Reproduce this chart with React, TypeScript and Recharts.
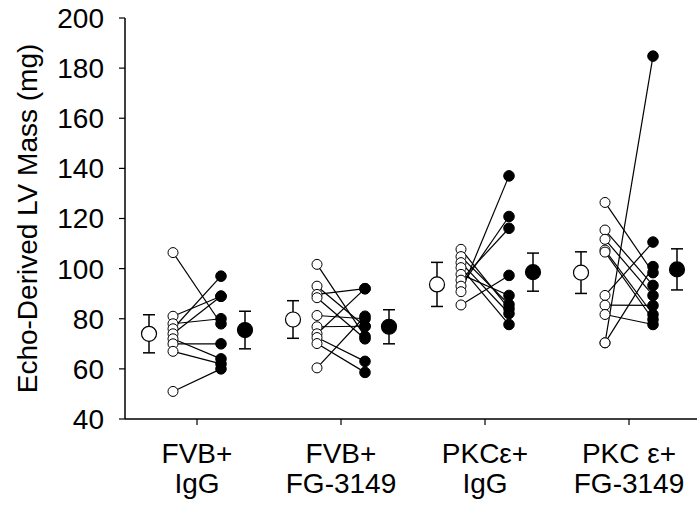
import { ComposedChart, Scatter, XAxis, YAxis, ErrorBar, Label } from 'recharts';

// category labels (two lines each)
const labelTop = ['FVB+', 'FVB+', 'PKCε+', 'PKC ε+'];
const labelBottom = ['IgG', 'FG-3149', 'IgG', 'FG-3149'];

// individual animals, before (open) and after (filled)
const fvbIgGBefore = [106.4, 81, 78, 76, 74, 72, 70, 67, 51];
const fvbIgGAfter = [78, 89, 80, 97, 89, 64, 70, 62, 60];
const fvbFgBefore = [101.7, 93, 89.7, 88.4, 81.3, 76.8, 74, 72.5, 70.1, 60.4];
const fvbFgAfter = [73, 77, 92, 72, 80, 77, 92, 63, 58.6, 81];
const pkcIgGBefore = [107.7, 104.8, 102.4, 100.4, 97.7, 95.4, 93, 90.8, 85.5];
const pkcIgGAfter = [84, 85.7, 82.1, 77.7, 89.3, 116.1, 120.8, 137, 97.3];
const pkcFgBefore = [126.4, 115.4, 111.7, 107.4, 106.6, 89.3, 85.4, 81.7, 70.4, 70.4];
const pkcFgAfter = [98.4, 93.3, 89.3, 81.7, 79.7, 110.6, 85.3, 77.7, 184.8, 100.8];

// group means +/- SEM
const beforeMean = [74, 79.7, 93.7, 98.4];
const beforeSem = [7.6, 7.5, 8.8, 8.3];
const afterMean = [75.5, 76.8, 98.6, 99.7];
const afterSem = [7.5, 6.8, 7.6, 8.2];

const yTicks = [40, 60, 80, 100, 120, 140, 160, 180, 200];

const before = [fvbIgGBefore, fvbFgBefore, pkcIgGBefore, pkcFgBefore];
const after = [fvbIgGAfter, fvbFgAfter, pkcIgGAfter, pkcFgAfter];

const FONT = '"Liberation Sans", Arial, sans-serif';

const pairs = before.flatMap((vals, g) =>
	vals.map((v, i) => [
		{ x: g + 1 - 1 / 6, y: v },
		{ x: g + 1 + 1 / 6, y: after[g][i] },
	])
);
const openDots = before.flatMap((vals, g) => vals.map((v) => ({ x: g + 1 - 1 / 6, y: v })));
const filledDots = after.flatMap((vals, g) => vals.map((v) => ({ x: g + 1 + 1 / 6, y: v })));
const openMeans = beforeMean.map((m, g) => ({ x: g + 1 - 1 / 3, y: m, err: beforeSem[g] }));
const filledMeans = afterMean.map((m, g) => ({ x: g + 1 + 1 / 3, y: m, err: afterSem[g] }));

const circle = (r: number, fill: string, sw: number) => (p: any) =>
	<circle cx={p.cx} cy={p.cy} r={r} fill={fill} stroke="#000" strokeWidth={sw} />;

function CategoryTick(props: any) {
	const { x, y, payload } = props;
	const i = Math.round(payload.value) - 1;
	return (
		<text textAnchor="middle" fontSize={28} fontFamily={FONT} fill="#000">
			<tspan x={x} y={y + 36}>{labelTop[i]}</tspan>
			<tspan x={x} y={y + 66}>{labelBottom[i]}</tspan>
		</text>
	);
}

export default function App() {
	return (
		<div style={{ position: 'absolute', left: 0, top: 0, width: 697, height: 506, overflow: 'hidden', background: '#fff' }}>
			<ComposedChart width={701} height={506} margin={{ top: 18, right: 0, bottom: 0, left: 0 }}>
				<XAxis
					type="number"
					dataKey="x"
					domain={[0.5, 4.5]}
					ticks={[1, 2, 3, 4]}
					height={87}
					tickSize={6}
					tickMargin={2}
					tick={<CategoryTick />}
					axisLine={{ stroke: '#000', strokeWidth: 1.5 }}
					tickLine={{ stroke: '#000', strokeWidth: 1.2 }}
				/>
				<YAxis
					type="number"
					dataKey="y"
					domain={[40, 200]}
					ticks={yTicks}
					width={125}
					tickSize={6}
					tickMargin={15}
					tick={{ fill: '#000', fontSize: 28, fontFamily: FONT }}
					axisLine={{ stroke: '#000', strokeWidth: 1.5 }}
					tickLine={{ stroke: '#000', strokeWidth: 1.2 }}
				>
					<Label
						value="Echo-Derived LV Mass (mg)"
						angle={-90}
						position="insideLeft"
						offset={27}
						fill="#000"
						fontSize={28}
						fontFamily={FONT}
						style={{ textAnchor: 'middle' }}
					/>
				</YAxis>
				{pairs.map((d, k) => (
					<Scatter
						key={`pair-${k}`}
						data={d}
						line={{ stroke: '#000', strokeWidth: 1.2 }}
						shape={() => <g />}
						isAnimationActive={false}
					/>
				))}
				<Scatter data={openDots} shape={circle(5, '#fff', 1)} isAnimationActive={false} />
				<Scatter data={filledDots} shape={circle(5.3, '#000', 1)} isAnimationActive={false} />
				<Scatter data={openMeans} shape={circle(7.5, '#fff', 1.2)} isAnimationActive={false}>
					<ErrorBar dataKey="err" direction="y" width={6} stroke="#000" strokeWidth={1.5} />
				</Scatter>
				<Scatter data={filledMeans} shape={circle(7.5, '#000', 1.2)} isAnimationActive={false}>
					<ErrorBar dataKey="err" direction="y" width={6} stroke="#000" strokeWidth={1.5} />
				</Scatter>
			</ComposedChart>
		</div>
	);
}
